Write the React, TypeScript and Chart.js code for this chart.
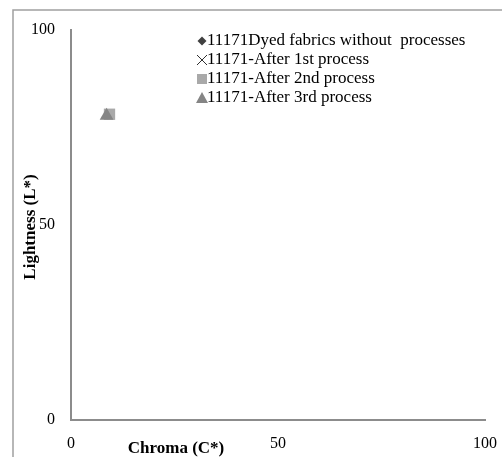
import React, { useEffect, useRef } from "react";
import { Chart, registerables } from "chart.js";

Chart.register(...registerables);

const seriesNames = [
  "11171Dyed fabrics without  processes",
  "11171-After 1st process",
  "11171-After 2nd process",
  "11171-After 3rd process",
];
const chromaValues = [8.9, 8.9, 9.3, 8.6];
const lightnessValues = [78.1, 78.2, 78.4, 78.0];
const pointStyles = ["rectRot", "crossRot", "rect", "triangle"];
const pointRadii = [4, 4, 8, 8];
const colors = ["#404040", "#303030", "#a9a9a9", "#858585"];
const xTicks = [0, 50, 100];
const yTicks = [0, 50, 100];
const xTitle = "Chroma (C*)";
const yTitle = "Lightness (L*)";

const FONT = "'Liberation Serif', 'Times New Roman', serif";

const decorPlugin = {
  id: "decor",
  beforeDraw(chart: any) {
    const ctx = chart.ctx;
    ctx.save();
    ctx.strokeStyle = "#a0a0a0";
    ctx.lineWidth = 1.5;
    ctx.beginPath();
    ctx.moveTo(13, chart.height);
    ctx.lineTo(13, 10);
    ctx.lineTo(chart.width, 10);
    ctx.stroke();
    ctx.restore();
  },
  afterDraw(chart: any) {
    const ctx = chart.ctx;
    const area = chart.chartArea;
    ctx.save();
    ctx.fillStyle = "#000";
    ctx.font = `bold 17px ${FONT}`;
    ctx.textAlign = "center";
    ctx.textBaseline = "middle";
    ctx.fillText(xTitle, 176, 449);
    ctx.translate(31, (area.top + area.bottom) / 2 + 2);
    ctx.rotate(-Math.PI / 2);
    ctx.fillText(yTitle, 0, 0);
    ctx.restore();

    // legend
    ctx.save();
    ctx.font = `17px ${FONT}`;
    ctx.textBaseline = "middle";
    ctx.textAlign = "left";
    const lx = 202;
    seriesNames.forEach((name, i) => {
      const y = 41 + i * 19;
      ctx.fillStyle = colors[i];
      ctx.strokeStyle = colors[i];
      ctx.lineWidth = 1;
      const ps = pointStyles[i];
      if (ps === "rectRot") {
        ctx.beginPath();
        ctx.moveTo(lx, y - 4.5);
        ctx.lineTo(lx + 4.5, y);
        ctx.lineTo(lx, y + 4.5);
        ctx.lineTo(lx - 4.5, y);
        ctx.closePath();
        ctx.fill();
      } else if (ps === "crossRot") {
        ctx.beginPath();
        ctx.moveTo(lx - 5, y - 5);
        ctx.lineTo(lx + 5, y + 5);
        ctx.moveTo(lx + 5, y - 5);
        ctx.lineTo(lx - 5, y + 5);
        ctx.stroke();
      } else if (ps === "rect") {
        ctx.fillRect(lx - 5, y - 5, 10, 10);
      } else {
        ctx.beginPath();
        ctx.moveTo(lx, y - 6);
        ctx.lineTo(lx + 6, y + 5);
        ctx.lineTo(lx - 6, y + 5);
        ctx.closePath();
        ctx.fill();
      }
      ctx.fillStyle = "#000";
      ctx.fillText(name, lx + 5, y);
    });
    ctx.restore();
  },
};

export default function App() {
  const ref = useRef<HTMLCanvasElement | null>(null);
  useEffect(() => {
    document.body.style.margin = "0";
    const canvas = ref.current!;
    const chart = new Chart(canvas, {
      type: "scatter",
      data: {
        datasets: seriesNames.map((name, i) => ({
          label: name,
          data: [{ x: chromaValues[i], y: lightnessValues[i] }],
          order: seriesNames.length - 1 - i,
          pointStyle: pointStyles[i] as any,
          pointRadius: pointRadii[i],
          backgroundColor: colors[i],
          borderColor: colors[i],
          borderWidth: pointStyles[i] === "crossRot" ? 1.5 : 0,
        })),
      },
      options: {
        responsive: false,
        animation: false,
        layout: { padding: { left: 0, top: 30, right: 17, bottom: 0 } },
        plugins: {
          legend: { display: false },
          tooltip: { enabled: false },
        },
        scales: {
          x: {
            type: "linear",
            min: 0,
            max: 100,
            afterBuildTicks: (s: any) => {
              s.ticks = xTicks.map((v) => ({ value: v }));
            },
            afterFit: (s: any) => {
              s.height = 37;
              s.paddingLeft = 0;
              s.paddingRight = 0;
            },
            grid: { display: false, drawTicks: false },
            border: { display: true, color: "#8c8c8c", width: 2 },
            ticks: {
              color: "#000",
              font: { family: FONT, size: 16 },
              padding: 14,
              maxRotation: 0,
            },
          },
          y: {
            type: "linear",
            min: 0,
            max: 100,
            afterBuildTicks: (s: any) => {
              s.ticks = yTicks.map((v) => ({ value: v }));
            },
            afterFit: (s: any) => {
              s.width = 71;
              s.paddingTop = 0;
              s.paddingBottom = 0;
            },
            grid: { display: false, drawTicks: false },
            border: { display: true, color: "#8c8c8c", width: 2 },
            ticks: {
              color: "#000",
              font: { family: FONT, size: 16 },
              padding: 16,
            },
          },
        },
      },
      plugins: [decorPlugin],
    });
    return () => chart.destroy();
  }, []);
  return <canvas ref={ref} width={502} height={457} style={{ display: "block" }} />;
}
